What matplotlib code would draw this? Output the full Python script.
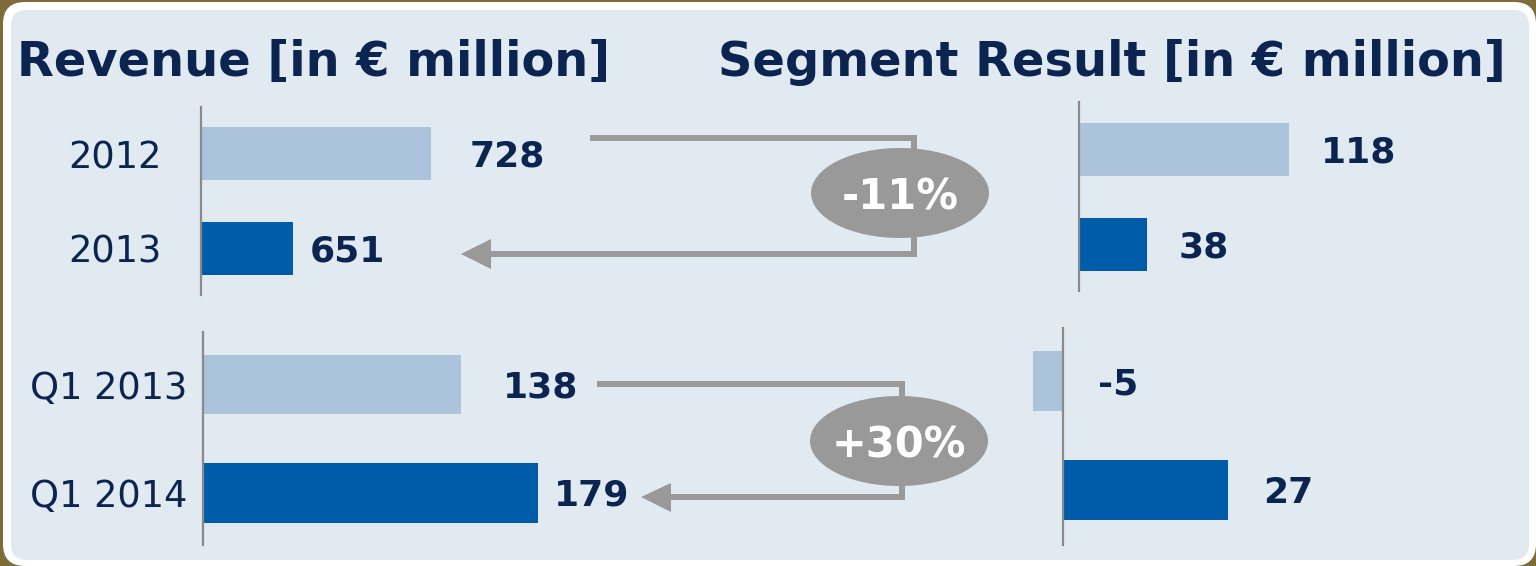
import matplotlib
matplotlib.use("Agg")
import matplotlib.pyplot as plt
from matplotlib.patches import FancyBboxPatch, Ellipse, Polygon

# data
years = ["2012", "2013"]
quarters = ["Q1 2013", "Q1 2014"]
revenue_year = [728, 651]
revenue_q1 = [138, 179]
result_year = [118, 38]
result_q1 = [-5, 27]

W, H = 1536, 566
LIGHT = "#abc3db"
DARK = "#005ca9"
NAVY = "#0b2450"
GREY = "#999999"
AXIS = "#8a8a8a"

fig = plt.figure(figsize=(W / 100, H / 100), dpi=100)
fig.patch.set_facecolor("#7d6c38")


def px(x0, y0, x1, y1):
    # pixel box -> figure rect
    return [x0 / W, 1 - y1 / H, (x1 - x0) / W, (y1 - y0) / H]


# background panel
bg = fig.add_axes([0, 0, 1, 1], zorder=-1)
bg.set_xlim(0, W)
bg.set_ylim(H, 0)
bg.axis("off")
bg.add_patch(FancyBboxPatch((3, 2), W - 3, H - 2, boxstyle="round,pad=0,rounding_size=22",
                            fc="white", ec="none"))
bg.add_patch(FancyBboxPatch((11, 10), 1518, 550, boxstyle="round,pad=0,rounding_size=16",
                            fc="#e1e9f1", ec="none"))

# titles
fig.text(17 / W, 1 - 76 / H, "Revenue [in € million]", fontsize=34.5, fontweight="bold",
         color=NAVY, va="baseline", ha="left")
fig.text(718 / W, 1 - 76 / H, "Segment Result [in € million]", fontsize=34.5, fontweight="bold",
         color=NAVY, va="baseline", ha="left")


def bar_panel(rect, values, labels, xlim, ylim, height, pads, tick_pad, zero_spine=False):
    ax = fig.add_axes(rect)
    ax.patch.set_alpha(0)
    pos = list(range(len(values)))
    ax.barh(pos, values, height=height, color=[LIGHT, DARK])
    ax.set_xlim(*xlim)
    ax.set_ylim(*ylim)
    for s in ["top", "right", "bottom"]:
        ax.spines[s].set_visible(False)
    ax.spines["left"].set_color(AXIS)
    ax.spines["left"].set_linewidth(1.6)
    ax.spines["left"].set_zorder(3)
    if zero_spine:
        ax.spines["left"].set_position(("data", 0))
    ax.set_xticks([])
    if labels:
        ax.set_yticks(pos)
        ax.set_yticklabels(labels, fontsize=26.5, color=NAVY)
        ax.tick_params(axis="y", length=0, pad=tick_pad)
    else:
        ax.set_yticks([])
    for i, v in enumerate(values):
        ax.annotate(str(v), xy=(max(v, 0), i), xytext=(pads[i], -3), textcoords="offset pixels",
                    fontsize=26, fontweight="bold", color=NAVY, ha="left", va="center",
                    annotation_clip=False)
    return ax


# yearly revenue uses a truncated axis (starts near 600), as on the slide
bar_panel(px(201, 107, 601, 295), revenue_year, years,
          (600, 600 + 400 / 1.797), (1.49, -0.49), 0.56, [39, 17], 28)
bar_panel(px(203, 332, 603, 545), revenue_q1, quarters,
          (0, 400 / 1.872), (1.48, -0.484), 0.55, [42, 16], 11.5)
bar_panel(px(1079, 102, 1479, 291), result_year, None,
          (0, 400 / 1.78), (1.49, -0.5), 0.56, [32, 32], 0)
bar_panel(px(1020, 328, 1420, 545), result_q1, None,
          (-43 / 6.1, -43 / 6.1 + 400 / 6.1), (1.5, -0.49), 0.55, [35, 35], 0, zero_spine=True)

# change arrows and bubbles
ov = fig.add_axes([0, 0, 1, 1], zorder=5)
ov.set_xlim(0, W)
ov.set_ylim(H, 0)
ov.axis("off")
ov.patch.set_alpha(0)

chg_year = round((revenue_year[1] / revenue_year[0] - 1) * 100)
chg_q1 = round((revenue_q1[1] / revenue_q1[0] - 1) * 100)

ov.plot([593, 914, 914, 489], [138, 138, 254, 254], color=GREY, lw=4.3, solid_joinstyle="miter")
ov.add_patch(Polygon([[461, 254], [491, 239], [491, 269]], fc=GREY, ec="none"))
ov.add_patch(Ellipse((900, 193), 178, 90, fc=GREY, ec="none"))
ov.text(900, 197, f"{chg_year:+d}%", fontsize=30, fontweight="bold", color="white",
        ha="center", va="center")

ov.plot([600, 902, 902, 669], [384, 384, 497, 497], color=GREY, lw=4.3, solid_joinstyle="miter")
ov.add_patch(Polygon([[641, 497], [671, 483], [671, 512]], fc=GREY, ec="none"))
ov.add_patch(Ellipse((899, 441), 178, 90, fc=GREY, ec="none"))
ov.text(899, 445, f"{chg_q1:+d}%", fontsize=30, fontweight="bold", color="white",
        ha="center", va="center")

plt.savefig("out.png", dpi=100, facecolor=fig.get_facecolor())
